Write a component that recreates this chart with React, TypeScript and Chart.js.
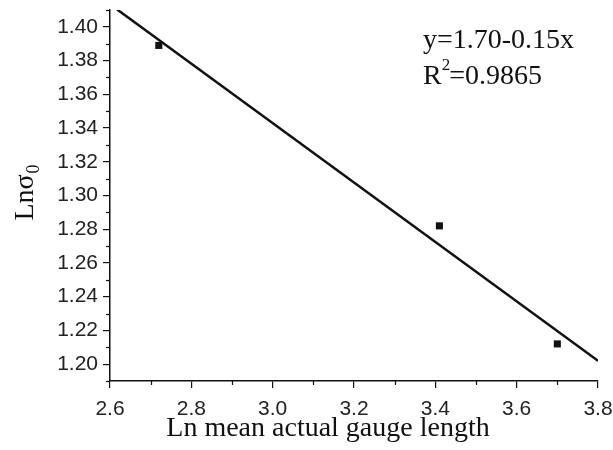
import React, { useEffect, useRef } from "react";
import { Chart, registerables } from "chart.js";

Chart.register(...registerables);

const pointsX = [2.72, 3.41, 3.70];
const pointsY = [1.389, 1.282, 1.212];
const fitX = [2.6, 3.8];
const fitY = [1.4134, 1.202];
const xTicks = [2.6, 2.8, 3.0, 3.2, 3.4, 3.6, 3.8];
const yTicks = [1.2, 1.22, 1.24, 1.26, 1.28, 1.3, 1.32, 1.34, 1.36, 1.38, 1.4];
const xMinor = [2.7, 2.9, 3.1, 3.3, 3.5, 3.7];
const yMinor = [1.19, 1.21, 1.23, 1.25, 1.27, 1.29, 1.31, 1.33, 1.35, 1.37, 1.39, 1.41];
const xTitle = "Ln mean actual gauge length";
const eqLine = "y=1.70-0.15x";
const r2Value = "=0.9865";

const SERIF = "'Liberation Serif', 'Times New Roman', serif";
const SANS = "'Liberation Sans', Arial, sans-serif";

const extras = {
  id: "extras",
  afterDraw(chart: any) {
    const ctx = chart.ctx;
    const xs = chart.scales.x;
    const ys = chart.scales.y;
    const area = chart.chartArea;
    ctx.save();
    ctx.strokeStyle = "#111";
    ctx.lineWidth = 1.2;
    // minor ticks
    xMinor.forEach((v) => {
      const px = Math.round(xs.getPixelForValue(v)) + 0.5;
      ctx.beginPath();
      ctx.moveTo(px, area.bottom);
      ctx.lineTo(px, area.bottom + 4);
      ctx.stroke();
    });
    yMinor.forEach((v) => {
      const py = Math.round(ys.getPixelForValue(v)) + 0.5;
      ctx.beginPath();
      ctx.moveTo(area.left, py);
      ctx.lineTo(area.left - 4, py);
      ctx.stroke();
    });
    ctx.fillStyle = "#111";
    // x title
    ctx.font = `28px ${SERIF}`;
    ctx.textAlign = "center";
    ctx.textBaseline = "alphabetic";
    ctx.fillText(xTitle, 328, 436);
    // y title
    ctx.save();
    ctx.translate(33, 193);
    ctx.rotate(-Math.PI / 2);
    ctx.textAlign = "left";
    ctx.font = `28px ${SERIF}`;
    const main = "Lnσ";
    const w = ctx.measureText(main).width;
    ctx.font = `18px ${SERIF}`;
    const ws = ctx.measureText("0").width;
    const start = -(w + ws) / 2;
    ctx.font = `28px ${SERIF}`;
    ctx.fillText(main, start, 0);
    ctx.font = `18px ${SERIF}`;
    ctx.fillText("0", start + w + 1, 6);
    ctx.restore();
    // annotation
    ctx.textAlign = "left";
    ctx.font = `28px ${SERIF}`;
    ctx.fillText(eqLine, 423, 48);
    ctx.fillText("R", 423, 84);
    const rw = ctx.measureText("R").width;
    ctx.font = `17px ${SERIF}`;
    ctx.fillText("2", 423 + rw, 70);
    const tw = ctx.measureText("2").width;
    ctx.font = `28px ${SERIF}`;
    ctx.fillText(r2Value, 423 + rw + tw - 1, 84);
    ctx.restore();
  },
};

export default function App() {
  const ref = useRef<HTMLCanvasElement>(null);
  useEffect(() => {
    if (!ref.current) return;
    const chart = new Chart(ref.current, {
      type: "scatter",
      data: {
        datasets: [
          {
            type: "line",
            data: fitX.map((x, i) => ({ x, y: fitY[i] })),
            borderColor: "#111",
            borderWidth: 2.5,
            pointRadius: 0,
            fill: false,
          } as any,
          {
            type: "scatter",
            data: pointsX.map((x, i) => ({ x, y: pointsY[i] })),
            backgroundColor: "#111",
            borderColor: "#111",
            pointStyle: "rect",
            pointRadius: 5,
            borderWidth: 0,
          },
        ],
      },
      options: {
        animation: false,
        responsive: false,
        maintainAspectRatio: false,
        layout: { padding: { left: 0, right: 15, top: 10, bottom: 0 } },
        plugins: { legend: { display: false }, tooltip: { enabled: false } },
        scales: {
          x: {
            type: "linear",
            min: 2.6,
            max: 3.8,
            afterBuildTicks: (s: any) => {
              s.ticks = xTicks.map((v) => ({ value: v }));
            },
            afterFit: (s: any) => {
              s.height = 69;
              s.paddingLeft = 0;
              s.paddingRight = 0;
            },
            grid: { drawOnChartArea: false, drawTicks: true, tickLength: 7, color: "#111", lineWidth: 1.2 },
            border: { display: true, color: "#111", width: 1.5 },
            ticks: {
              color: "#222",
              font: { family: SANS, size: 21 },
              padding: 9,
              maxRotation: 0,
              callback: (v: any) => Number(v).toFixed(1),
            },
          },
          y: {
            type: "linear",
            min: 1.19,
            max: 1.41,
            afterBuildTicks: (s: any) => {
              s.ticks = yTicks.map((v) => ({ value: v }));
            },
            afterFit: (s: any) => {
              s.width = 110;
              s.paddingTop = 0;
              s.paddingBottom = 0;
            },
            grid: { drawOnChartArea: false, drawTicks: true, tickLength: 7, color: "#111", lineWidth: 1.2 },
            border: { display: true, color: "#111", width: 1.5 },
            ticks: {
              color: "#222",
              font: { family: SANS, size: 21 },
              padding: 5,
              callback: (v: any) => Number(v).toFixed(2),
            },
          },
        },
      },
      plugins: [extras],
    } as any);
    return () => chart.destroy();
  }, []);
  return (
    <div style={{ position: "fixed", left: 0, top: 0, width: 613, height: 450, background: "#fff" }}>
      <canvas ref={ref} width={613} height={450} style={{ width: 613, height: 450 }} />
    </div>
  );
}
